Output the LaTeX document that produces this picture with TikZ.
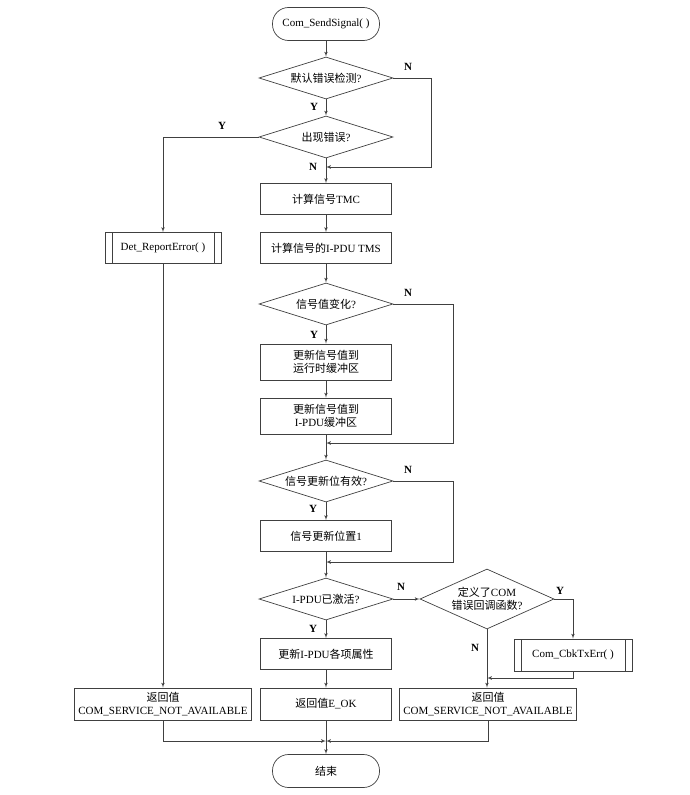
\documentclass[tikz,border=0pt]{standalone}
\usepackage{fontspec}
\setmainfont{Liberation Serif}
\newfontfamily\cjk{Noto Sans CJK SC}
\usetikzlibrary{shapes.geometric}
\usetikzlibrary{arrows}

\begin{document}
\begin{tikzpicture}[x=1pt, y=-1pt, line width=0.7pt, color=black!75, text=black,
  font=\fontsize{11}{13}\selectfont]
% style des noeuds
\tikzstyle{terminal} = [rectangle, draw, rounded corners=16pt, minimum width=107pt, minimum height=33pt]
\tikzstyle{test} = [diamond, draw, aspect=3.2, inner sep=0pt, minimum width=134pt, minimum height=42pt, align=center]
\tikzstyle{instruct} = [rectangle, draw, minimum width=131pt, minimum height=31pt, inner sep=0pt, align=center]
\tikzstyle{sousprog} = [instruct, path picture={
  \draw ([xshift=7pt]path picture bounding box.north west) -- ([xshift=7pt]path picture bounding box.south west)
        ([xshift=-7pt]path picture bounding box.north east) -- ([xshift=-7pt]path picture bounding box.south east);}]
\tikzstyle{retour} = [rectangle, draw, minimum width=177pt, minimum height=32pt, inner sep=0pt, align=center]
% style des flèches
\tikzstyle{suite} = [->, >=latex', shorten >=0pt]
\tikzstyle{choix} = [font=\bfseries\fontsize{11}{13}\selectfont]

\useasboundingbox (0,0) rectangle (690,795);

%% placement des noeuds
\node[terminal] (debut) at (326,24) {Com\_SendSignal( )};
\node[test] (testDefaut) at (326,78) {{\cjk 默认错误检测}?};
\node[test] (testErreur) at (326,137) {{\cjk 出现错误}?};
\node[instruct] (calcTMC) at (326,199) {{\cjk 计算信号}TMC};
\node[instruct] (calcTMS) at (326,248) {{\cjk 计算信号的}I-PDU TMS};
\node[test] (testChange) at (326,304) {{\cjk 信号值变化}?};
\node[instruct, minimum height=36pt] (majRuntime) at (326,362) {{\cjk 更新信号值到}\\{\cjk 运行时缓冲区}};
\node[instruct, minimum height=36pt] (majIPDU) at (326,416) {{\cjk 更新信号值到}\\I-PDU{\cjk 缓冲区}};
\node[test] (testBit) at (326,481) {{\cjk 信号更新位有效}?};
\node[instruct] (setBit) at (326,536) {{\cjk 信号更新位置}1};
\node[test] (testActif) at (326,599) {I-PDU{\cjk 已激活}?};
\node[instruct] (majAttr) at (326,654) {{\cjk 更新}I-PDU{\cjk 各项属性}};
\node[instruct, minimum height=32pt] (retOK) at (326,704) {{\cjk 返回值}E\_OK};
\node[terminal] (fin) at (326,771) {{\cjk 结束}};
%
\node[sousprog, minimum width=116pt] (reportErr) at (163,248) {Det\_ReportError( )};
\node[retour] (retErreurG) at (163,704) {{\cjk 返回值}\\COM\_SERVICE\_NOT\_AVAILABLE};
%
\node[test, aspect=2.2, minimum height=60pt] (testCallback) at (487,599) {{\cjk 定义了}COM\\{\cjk 错误回调函数}?};
\node[sousprog, minimum width=118pt, minimum height=32pt] (callback) at (573,655) {Com\_CbkTxErr( )};
\node[retour] (retErreurD) at (488,704) {{\cjk 返回值}\\COM\_SERVICE\_NOT\_AVAILABLE};

%% points de jonction
\coordinate (jonction1) at (326,167);
\coordinate (jonction2) at (326,443);
\coordinate (jonction3) at (326,562);
\coordinate (jonction4) at (487,678);
\coordinate (jonction5) at (326,741);

%% placement des flèches
\draw[suite] (debut) -- (testDefaut);
\draw[suite] (testDefaut) -- (testErreur);
\draw[suite] (testDefaut.east) -- ++(38,0) |- (jonction1);
\draw[suite] (testErreur) -- (calcTMC);
\draw[suite] (testErreur.west) -| (reportErr.north);
\draw[suite] (calcTMC) -- (calcTMS);
\draw[suite] (calcTMS) -- (testChange);
\draw[suite] (testChange) -- (majRuntime);
\draw[suite] (majRuntime) -- (majIPDU);
\draw[suite] (testChange.east) -- ++(60,0) |- (jonction2);
\draw[suite] (majIPDU) -- (testBit);
\draw[suite] (testBit) -- (setBit);
\draw[suite] (testBit.east) -- ++(60,0) |- (jonction3);
\draw[suite] (setBit) -- (testActif);
\draw[suite] (testActif) -- (majAttr);
\draw[suite] (testActif) -- (testCallback);
\draw[suite] (majAttr) -- (retOK);
\draw[suite] (retOK) -- (fin);
\draw[suite] (testCallback.east) -| (callback.north);
\draw[suite] (testCallback) -- (testCallback |- retErreurD.north);
\draw[suite] (callback.south) |- (jonction4);
\draw[suite] (reportErr) -- (retErreurG);
\draw[suite] (retErreurG.south) |- (jonction5);
\draw[suite] (retErreurD.south) |- (jonction5);

%% étiquettes
\node[choix] (nonDefaut) at (408,67) {N};
\node[choix] (ouiDefaut) at (314,107) {Y};
\node[choix] (ouiErreur) at (222,126) {Y};
\node[choix] (nonErreur) at (313,167) {N};
\node[choix] (nonChange) at (408,293) {N};
\node[choix] (ouiChange) at (314,335) {Y};
\node[choix] (nonBit) at (408,470) {N};
\node[choix] (ouiBit) at (313,509) {Y};
\node[choix] (nonActif) at (401,587) {N};
\node[choix] (ouiActif) at (313,629) {Y};
\node[choix] (ouiCallback) at (560,591) {Y};
\node[choix] (nonCallback) at (475,648) {N};
\end{tikzpicture}
\end{document}
